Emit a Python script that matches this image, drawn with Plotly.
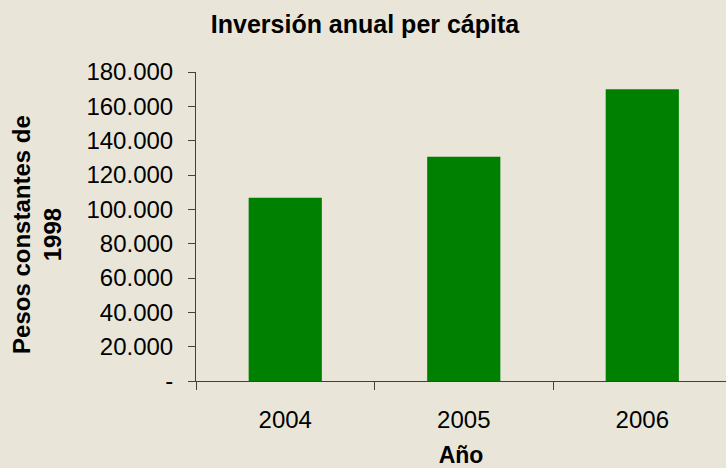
import plotly.graph_objects as go

# Data
years = ["2004", "2005", "2006"]
inversion = [106800, 130700, 169900]  # pesos constantes de 1998

y_tickvals = [0, 20000, 40000, 60000, 80000, 100000, 120000, 140000, 160000, 180000]
y_ticktext = ["-", "20.000", "40.000", "60.000", "80.000", "100.000",
              "120.000", "140.000", "160.000", "180.000"]

bg = "#E9E6D9"
bar_color = "#008000"
axis_color = "#404040"
font_family = "Liberation Sans, Arial, sans-serif"

fig = go.Figure(
    go.Bar(
        x=years,
        y=inversion,
        marker=dict(color=bar_color, line=dict(width=0)),
    )
)

fig.update_layout(
    width=726,
    height=468,
    paper_bgcolor=bg,
    plot_bgcolor=bg,
    margin=dict(l=196, r=0, t=72, b=85),
    bargap=0.59,
    showlegend=False,
    font=dict(family=font_family, size=24, color="black"),
    title=dict(
        text="<b>Inversión anual per cápita</b>",
        x=(365 / 726), xanchor="center",
        y=1 - 24 / 468, yanchor="middle",
        font=dict(size=25),
    ),
)

fig.update_xaxes(
    type="category",
    range=[-0.5, 2.469],
    showline=True, linecolor=axis_color, linewidth=1,
    ticks="outside", tickson="boundaries", ticklen=8, tickcolor=axis_color,
    showgrid=False,
    tickfont=dict(size=24),
    ticklabelstandoff=17,
    title=dict(text="<b>Año</b>", font=dict(size=23), standoff=19),
)

fig.update_yaxes(
    range=[0, 180000],
    tickvals=y_tickvals,
    ticktext=y_ticktext,
    showline=True, linecolor=axis_color, linewidth=1,
    ticks="outside", ticklen=7, tickcolor=axis_color,
    showgrid=False, zeroline=False,
    tickfont=dict(size=24),
    ticklabelstandoff=10,
)

# Two-line rotated y-axis title
fig.add_annotation(
    text="<b>Pesos constantes de<br>1998</b>",
    xref="paper", yref="paper",
    x=(37 - 196) / 530, y=(383 - 236) / 311,
    xanchor="center", yanchor="middle",
    textangle=-90, showarrow=False,
    font=dict(size=24),
)

# drop the browser's default body margin so the figure sits at the page corner
fig.write_html(
    "out.html",
    config={"displayModeBar": False},
    post_script="document.body.style.margin='0';",
)
